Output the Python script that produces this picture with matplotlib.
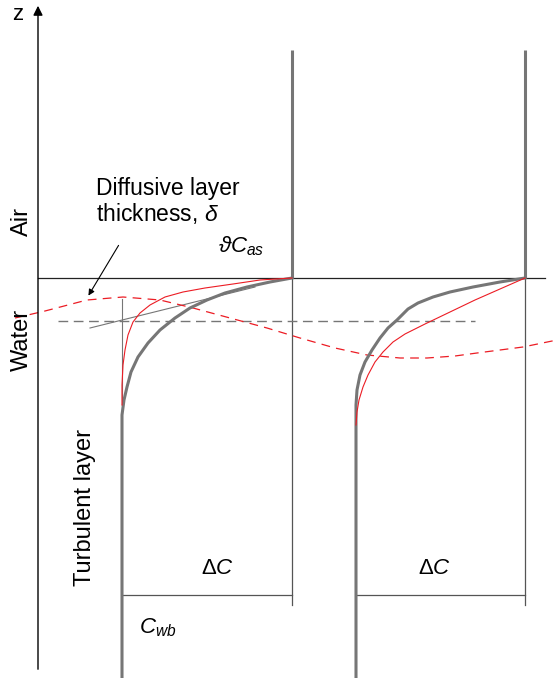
import numpy as np
import matplotlib
matplotlib.use("Agg")
import matplotlib.pyplot as plt

plt.rcParams['font.family'] = ['Liberation Sans', 'DejaVu Sans']
plt.rcParams['mathtext.fontset'] = 'custom'
plt.rcParams['mathtext.rm'] = 'Liberation Sans'
plt.rcParams['mathtext.it'] = 'Liberation Sans:italic'

# schematic coordinates (x: concentration, z: depth, in picture units, z grows downward)
surface_z = 278
bottom_z = 595
left_bulk_x, left_surf_x = 122, 292
right_bulk_x, right_surf_x = 356, 525

# left profile, well mixed (thick grey)
left_grey_x = [292, 270, 247, 225, 207, 190, 175, 160, 148, 138, 131, 127, 124, 122, 122]
left_grey_z = [278, 282, 287, 293, 300, 308, 318, 330, 343, 357, 372, 387, 400, 415, 678]
# left profile, thin red
left_red_x = [292, 260, 233, 205, 183, 165, 150, 140, 133, 128, 125, 123, 122, 122]
left_red_z = [278, 280, 284, 288, 292, 297, 305, 313, 322, 335, 350, 365, 385, 405]

# right profile (thick grey)
right_grey_x = [525, 500, 473, 450, 433, 418, 408, 397, 388, 380, 372, 365, 360, 357, 356, 356]
right_grey_z = [278, 282, 287, 292, 297, 303, 309, 320, 328, 338, 350, 362, 375, 390, 405, 678]
# right profile, thin red
right_red_x = [525, 500, 475, 450, 425, 405, 393, 383, 375, 368, 363, 359, 357, 356]
right_red_z = [278, 289, 300, 312, 324, 334, 342, 352, 362, 375, 387, 400, 412, 425]

# diffusive layer thickness (red dashed wave)
wave_x = [15, 45, 87, 123, 160, 193, 230, 267, 300, 335, 367, 400, 427, 455, 477, 523, 557]
wave_z = [318, 311, 300, 297, 300, 308, 318, 328, 338, 348, 355, 358, 358, 356, 353, 347, 340]

mean_delta_z = 321
tangent_x = [90, 255]
tangent_z = [328, 287]

grey = '#767676'
red = '#ec1c24'
dark = '#555555'

fig = plt.figure(figsize=(5.6, 6.78), dpi=100)
ax = fig.add_axes([0, 0, 1, 1])
ax.set_xlim(0, 560)
ax.set_ylim(678, 0)
ax.axis('off')

# z axis
ax.annotate('', xy=(38, 3), xytext=(38, 672),
            arrowprops=dict(arrowstyle='-|>', lw=1.0, color='black', mutation_scale=14))
ax.text(18, 14, 'z', fontsize=16, ha='center', va='center')

# air-water interface
ax.plot([38, 545], [surface_z, surface_z], color='#222222', lw=0.9)

# air side constant concentration
ax.plot([left_surf_x, left_surf_x], [50, surface_z], color=grey, lw=2.2, solid_capstyle='butt')
ax.plot([right_surf_x, right_surf_x], [50, surface_z], color=grey, lw=2.2, solid_capstyle='butt')

# thin guide lines below surface and delta C brackets
for xs, xb in [(left_surf_x, left_bulk_x), (right_surf_x, right_bulk_x)]:
    ax.plot([xs, xs], [surface_z, 605], color=dark, lw=0.9)
    ax.plot([xb, xs], [bottom_z, bottom_z], color=dark, lw=0.9)

ax.plot([left_bulk_x, left_bulk_x], [299, 410], color=grey, lw=0.8)
ax.plot(tangent_x, tangent_z, color=grey, lw=0.8)
ax.plot([58, 475], [mean_delta_z, mean_delta_z], color=grey, lw=1.0, dashes=(7, 4))
ax.plot(wave_x, wave_z, color=red, lw=0.9, dashes=(7, 5))

ax.plot(left_grey_x, left_grey_z, color=grey, lw=2.2)
ax.plot(left_red_x, left_red_z, color=red, lw=0.8)
ax.plot(right_grey_x, right_grey_z, color=grey, lw=2.2)
ax.plot(right_red_x, right_red_z, color=red, lw=0.8)

# labels
ax.text(22, 222, 'Air', fontsize=17, rotation=90, ha='center', va='center')
ax.text(22, 340, 'Water', fontsize=17, rotation=90, ha='center', va='center')
ax.text(85, 507, 'Turbulent layer', fontsize=17, rotation=90, ha='center', va='center')
ax.text(96, 188, 'Diffusive layer', fontsize=16.5, ha='left', va='center')
ax.text(96, 213, r'thickness, $\delta$', fontsize=16.5, ha='left', va='center')
ax.annotate('', xy=(87, 298), xytext=(120, 243),
            arrowprops=dict(arrowstyle='-|>', lw=0.8, color='black', mutation_scale=9))
ax.text(218, 246, r'$\vartheta C_{as}$', fontsize=16, ha='left', va='center')
ax.text(218, 568, r'$\Delta C$', fontsize=16, ha='center', va='center')
ax.text(435, 568, r'$\Delta C$', fontsize=16, ha='center', va='center')
ax.text(139, 628, r'$C_{wb}$', fontsize=16, ha='left', va='center')

fig.savefig('out.png', dpi=100)
